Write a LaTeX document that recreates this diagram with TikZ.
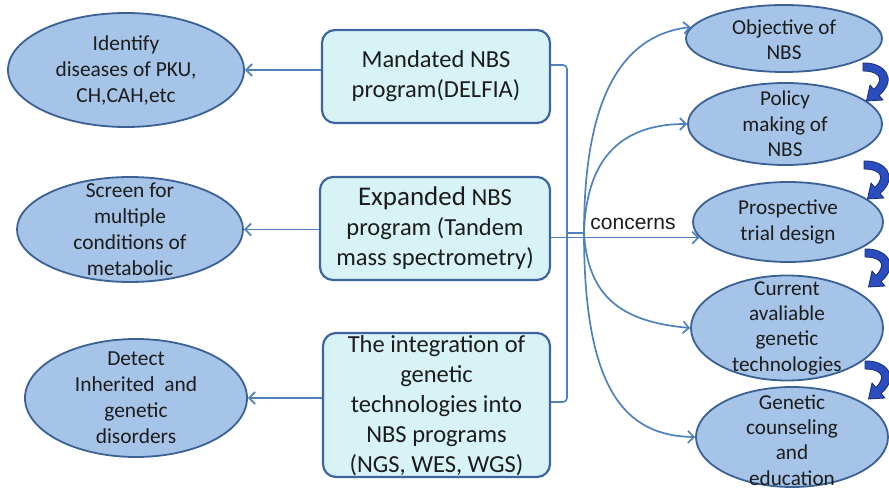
\documentclass[tikz,border=0pt]{standalone}
\usepackage{fontspec}
\setmainfont{Carlito}
\newfontfamily\labelsans{Liberation Sans}
\usetikzlibrary{shapes.geometric,arrows.meta,calc}
\definecolor{ellfill}{RGB}{166,196,232}
\definecolor{ellline}{RGB}{59,96,148}
\definecolor{boxfill}{RGB}{216,243,246}
\definecolor{boxline}{RGB}{62,100,160}
\definecolor{connc}{RGB}{79,129,189}
\definecolor{turnfill}{RGB}{42,78,190}
\definecolor{turnline}{RGB}{24,44,118}
\definecolor{txt}{RGB}{28,28,28}
\begin{document}
\begin{tikzpicture}[x=1pt,y=-1pt,
  ell/.style={ellipse, draw=ellline, fill=ellfill, line width=1.8pt, inner sep=0pt},
  box/.style={rectangle, rounded corners=13pt, draw=boxline, fill=boxfill, line width=2.2pt, inner sep=0pt},
  boxtxt/.style={text=txt, align=center, inner sep=0pt, font=\fontsize{24.5}{30}\selectfont},
  lefttxt/.style={text=txt, align=center, inner sep=0pt, font=\fontsize{21.4}{26}\selectfont},
  righttxt/.style={text=txt, align=center, inner sep=0pt, font=\fontsize{21.2}{25.3}\selectfont},
  conn/.style={draw=connc, line width=1.7pt},
  arr/.style={conn, -{Straight Barb[length=6pt,width=12pt]}},
  turnarrow/.pic={
    \filldraw[fill=turnfill, draw=turnline, line width=0.8pt, line join=round]
      (0,0) .. controls (20,-1) and (36,15) .. (16.1,32.5) -- (20,37) -- (3.5,38)
      -- (7,22) -- (10.9,26.5) .. controls (24,13) and (12,8) .. (0,8) -- cycle;
  }]
\useasboundingbox (0,0) rectangle (889,489);

% programmes (middle column)
\node[box, minimum width=228pt, minimum height=93pt,
  label={[boxtxt]center:{Mandated NBS\\program(DELFIA)}}] (b1) at (436,76.5) {};
\node[box, minimum width=230pt, minimum height=103pt,
  label={[boxtxt]center:{{\fontsize{27}{30}\selectfont Expanded} NBS\\program (Tandem\\mass spectrometry)}}] (b2) at (435,228.5) {};
\node[box, minimum width=227pt, minimum height=144pt,
  label={[boxtxt,yshift=-1pt]center:{The integration of\\genetic\\technologies into\\NBS programs\\(NGS, WES, WGS)}}] (b3) at (436.5,405) {};

% outcomes (left column)
\node[ell, minimum width=236pt, minimum height=114pt,
  label={[lefttxt]center:{Identify\\diseases of PKU,\\CH,CAH,etc}}] (e1) at (126,70) {};
\node[ell, minimum width=226pt, minimum height=105pt,
  label={[lefttxt]center:{Screen for\\multiple\\conditions of\\metabolic}}] (e2) at (130,229.5) {};
\node[ell, minimum width=222pt, minimum height=118pt,
  label={[lefttxt]center:{Detect\\Inherited\ \ and\\genetic\\disorders}}] (e3) at (136,398) {};

% concerns (right column)
\node[ell, minimum width=196pt, minimum height=67pt,
  label={[righttxt,yshift=-1pt]center:{Objective of\\NBS}}] (eobj) at (784,38.5) {};
\node[ell, minimum width=194pt, minimum height=82pt,
  label={[righttxt]center:{Policy\\making of\\NBS}}] (epol) at (785,124) {};
\node[ell, minimum width=190pt, minimum height=80pt,
  label={[righttxt]center:{Prospective\\trial design}}] (epro) at (788,222) {};
\node[ell, minimum width=192pt, minimum height=105pt,
  label={[righttxt]center:{Current\\avaliable\\genetic\\technologies}}] (ecur) at (787,328) {};
\node[ell, minimum width=192pt, minimum height=100pt,
  label={[righttxt,yshift=-3pt]center:{Genetic\\counseling\\and\\education}}] (egen) at (792,437) {};

% programmes to outcomes
\draw[arr] (b1.west |- e1.east) -- (e1.east);
\draw[arr] (b2.west |- e2.east) -- (e2.east);
\draw[arr] (b3.west |- e3.east) -- (e3.east);

% bracket joining the programmes
\coordinate (bar) at (567,233);
\coordinate (hub) at (584,233);
\draw[conn, rounded corners=4pt] ([yshift=11.5pt]b1.east) -| (bar) |- ([yshift=3pt]b3.east);
\draw[conn] (bar) -- (hub);

% fan of concerns
\draw[arr] (epro.190 -| b2.east) -- (epro.190);
\node[font=\labelsans\fontsize{21}{24}\selectfont, text=txt, inner sep=0pt] (concerns) at (633,224) {concerns};
\draw[arr] (hub) .. controls (584,110) and (615,36) .. (eobj.173);
\draw[arr] (hub) .. controls (586,165) and (615,124) .. (epol.west);
\draw[arr] (hub) .. controls (588,300) and (625,322) .. (ecur.west);
\draw[arr] (hub) .. controls (584,390) and (625,436) .. (egen.west);

% sequence arrows between concerns
\pic at (863,63) {turnarrow};
\pic at (864,161) {turnarrow};
\pic at (865,249) {turnarrow};
\pic at (865,361) {turnarrow};
\end{tikzpicture}
\end{document}
